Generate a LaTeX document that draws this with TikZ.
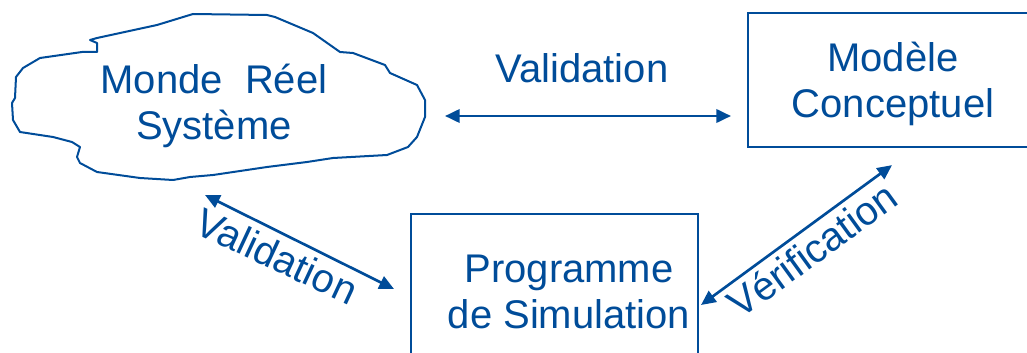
\documentclass[tikz,border=0pt]{standalone}
\usepackage{fontspec}
\setmainfont{Liberation Sans}
\usetikzlibrary{arrows.meta,positioning,calc}
\definecolor{pptblue}{RGB}{0,76,153}
\tikzset{
  boxline/.style={draw=pptblue, line width=1.5pt, inner sep=0pt},
  lbl/.style={text=pptblue, font=\fontsize{30}{34.5}\selectfont, align=center, inner sep=0pt},
  link/.style={draw=pptblue, line width=2pt, {Triangle[length=11pt,width=10pt]}-{Triangle[length=11pt,width=10pt]}},
}

\begin{document}
\begin{tikzpicture}[x=0.75pt,y=0.75pt,yscale=-1,xscale=1]
\useasboundingbox (0,0) rectangle (1027,353);

%Shape: Cloud
\draw [draw=pptblue, line width=1.5pt, line join=round] (193,14) -- (267,15) -- (275,17) -- (313,33) -- (340,52) -- (353,53) -- (377,62) -- (385,65) -- (390,73) -- (417,85) -- (425,100) -- (425,117) -- (417,137) -- (408,147) -- (387,155) -- (333,158) -- (307,162) -- (267,167) -- (213,175) -- (190,177) -- (173,180) -- (140,178) -- (97,172) -- (80,163) -- (77,157) -- (80,147) -- (72,142) -- (53,137) -- (20,132) -- (13,120) -- (12,103) -- (15,98) -- (16,77) -- (23,68) -- (40,58) -- (82,52) -- (97,52) -- (97,43) -- (90,40) -- (97,38) -- (157,25) -- cycle ;

% Text Node
\node [lbl] (monde) at (214,106) {Monde\ \ Réel\\Système};
%Shape: Rectangle
\node [boxline, minimum width=217.5pt, minimum height=100.7pt] (modele) at (893,80) {};
% Text Node
\node [lbl] (modeletext) at (893,84) {Modèle\\Conceptuel};
%Shape: Rectangle
\node [boxline, minimum width=215.25pt, minimum height=118.5pt] (prog) at (554.5,293) {};
% Text Node
\node [lbl] (progtext) at (569,292) {Programme\\de Simulation};

% Arrows
\coordinate (valL) at (445,116);
\coordinate (valR) at ($(modele.west)+(-16,36)$);
\draw [link] (valL) -- (valR);
\coordinate (valA) at (205,195);
\coordinate (valB) at ($(prog.north west)+(-16,76)$);
\draw [link] (valA) -- (valB);
\coordinate (verA) at ($(prog.east)+(2,12)$);
\coordinate (verB) at ($(modele.south)+(-1,17)$);
\draw [link] (verA) -- (verB);

% Text Node
\node [lbl, anchor=base] (valtop) at (582,83) {Validation};
% Text Node
\node [lbl, rotate=-25] (valdiag) at (277,256) {Validation};
% Text Node
\node [lbl, rotate=36] (verif) at (812,250) {Vérification};

\end{tikzpicture}
\end{document}
